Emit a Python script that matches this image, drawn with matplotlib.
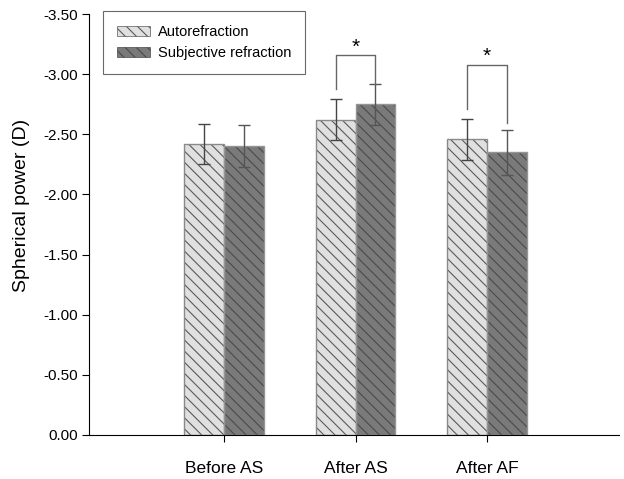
import matplotlib
matplotlib.use("Agg")
import matplotlib.pyplot as plt
import numpy as np
from matplotlib.patches import Patch

plt.rcParams['font.family'] = ['Liberation Sans', 'DejaVu Sans']
plt.rcParams['hatch.linewidth'] = 0.8

categories = ["Before AS", "After AS", "After AF"]
series_names = ["Autorefraction", "Subjective refraction"]
auto_vals = [-2.42, -2.62, -2.46]
auto_err = [0.165, 0.17, 0.17]
subj_vals = [-2.40, -2.75, -2.35]
subj_err = [0.175, 0.17, 0.185]
yticks = [0.0, -0.5, -1.0, -1.5, -2.0, -2.5, -3.0, -3.5]

# significance brackets: (category index, top y, left bottom y, right bottom y)
brackets = [(1, -3.16, -2.88, -2.92), (2, -3.08, -2.71, -2.595)]

auto_face, auto_hatch, auto_edge = '#e0e0e0', '#5a5a5a', '#8a8a8a'
subj_face, subj_hatch, subj_edge = '#7a7a7a', '#4a4a4a', '#959595'

fig = plt.figure(figsize=(6.24, 4.79), dpi=100)
ax = fig.add_axes([89/624, 1-435/479, (619-89)/624, (435-14)/479])

x = np.arange(len(categories))
w = 0.304
hatch = '\\\\\\'
# hatched fill
ax.bar(x - w/2, auto_vals, w, color=auto_face, edgecolor=auto_hatch, hatch=hatch, linewidth=0)
ax.bar(x + w/2, subj_vals, w, color=subj_face, edgecolor=subj_hatch, hatch=hatch, linewidth=0)
# outlines
ax.bar(x - w/2, auto_vals, w, fill=False, edgecolor=auto_edge, linewidth=1.0)
ax.bar(x + w/2, subj_vals, w, fill=False, edgecolor=subj_edge, linewidth=1.0)

ax.errorbar(x - w/2, auto_vals, yerr=auto_err, fmt='none', ecolor='#444444',
            elinewidth=1.0, capsize=4, capthick=1.0)
ax.errorbar(x + w/2, subj_vals, yerr=subj_err, fmt='none', ecolor='#555555',
            elinewidth=1.0, capsize=4, capthick=1.0)

for ci, top, lb, rb in brackets:
    xl, xr = ci - w/2, ci + w/2
    ax.plot([xl, xl, xr, xr], [lb, top, top, rb], color='#666666', lw=1.0)
    ax.text(ci, top + 0.012, '*', ha='center', va='bottom', fontsize=15)

ax.set_xlim(-1.027, 3.004)
ax.set_ylim(0, -3.5)
ax.set_yticks(yticks)
ax.set_yticklabels([f"{v:.2f}" for v in yticks], fontsize=11)
ax.set_xticks(x)
ax.set_xticklabels(categories, fontsize=12.5)
ax.tick_params(axis='x', length=5, pad=14)
ax.tick_params(axis='y', length=5, pad=3)
ax.set_ylabel("Spherical power (D)", fontsize=14)
ax.yaxis.set_label_coords(-0.111, 0.545)
for s in ['top', 'right']:
    ax.spines[s].set_visible(False)

handles = [Patch(facecolor=auto_face, edgecolor=auto_hatch, hatch=hatch, linewidth=0.5, label=series_names[0]),
           Patch(facecolor=subj_face, edgecolor=subj_hatch, hatch=hatch, linewidth=0.5, label=series_names[1])]
leg = fig.legend(handles=handles, loc='upper left', bbox_to_anchor=(103/624, 1-11/479),
                 borderaxespad=0, fontsize=10.5, frameon=True, fancybox=False,
                 edgecolor='#444444', handlelength=2.3, handleheight=0.7,
                 borderpad=0.95, labelspacing=0.5, handletextpad=0.5)
leg.get_frame().set_linewidth(0.8)

fig.savefig("out.png", dpi=100)
